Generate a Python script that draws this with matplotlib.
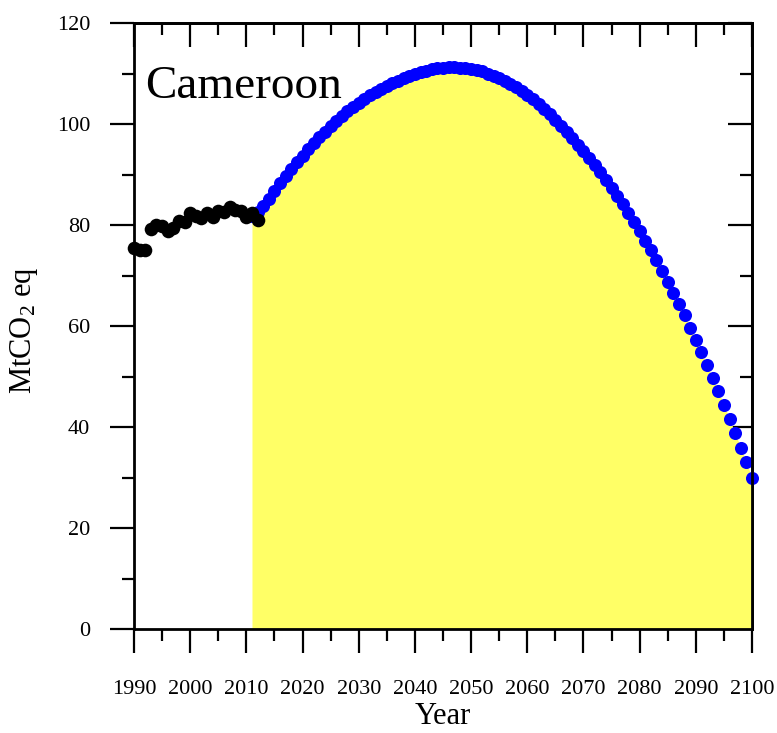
import matplotlib
matplotlib.use("Agg")
import matplotlib.pyplot as plt
from matplotlib.ticker import MultipleLocator

plt.rcParams['font.family'] = ['Liberation Serif', 'DejaVu Serif']
plt.rcParams['mathtext.fontset'] = 'custom'
plt.rcParams['mathtext.rm'] = 'Liberation Serif'
plt.rcParams['mathtext.it'] = 'Liberation Serif:italic'

# historical emissions (black)
hist_years = list(range(1990, 2013))
hist_vals = [75.5, 75.0, 75.0, 79.3, 80.0, 79.8, 78.8, 79.5, 80.8, 80.5,
             82.3, 81.8, 81.3, 82.3, 81.5, 82.8, 82.5, 83.5, 83.0, 82.8,
             81.5, 82.3, 81.0]

# projected pathway (blue)
proj_years = list(range(2011, 2101))
proj_vals = [81.8, 82.6, 83.7, 85.2, 86.8, 88.3, 89.7, 91.1, 92.4, 93.7,
             95.0, 96.2, 97.4, 98.5, 99.6, 100.6, 101.6, 102.5, 103.4, 104.2,
             105.0, 105.7, 106.4, 107.0, 107.6, 108.1, 108.6, 109.1, 109.5, 109.9,
             110.2, 110.5, 110.8, 111.0, 111.1, 111.2, 111.2, 111.1, 111.0, 110.8,
             110.6, 110.4, 110.0, 109.6, 109.1, 108.6, 108.0, 107.3, 106.6, 105.8,
             104.9, 104.0, 103.0, 101.9, 100.8, 99.6, 98.4, 97.2, 95.9, 94.6,
             93.3, 91.9, 90.4, 88.9, 87.4, 85.8, 84.1, 82.4, 80.6, 78.8,
             76.9, 75.0, 73.0, 70.9, 68.8, 66.6, 64.4, 62.1, 59.7, 57.3,
             54.8, 52.3, 49.7, 47.1, 44.4, 41.6, 38.8, 35.9, 33.0, 30.0]

fig = plt.figure(figsize=(7.77, 7.33), dpi=100)
ax = fig.add_axes([134 / 777, 104 / 733, 618 / 777, 606 / 733])

ax.fill_between(proj_years, proj_vals, 0, color='#ffff66', lw=0, zorder=1)
ax.plot(proj_years, proj_vals, 'o', color='#0000ff', ms=9.4, mec='none',
        clip_on=False, zorder=3)
ax.plot(hist_years, hist_vals, 'o', color='black', ms=9.8, mec='none',
        clip_on=False, zorder=4)

ax.set_xlim(1990, 2100)
ax.set_ylim(0, 120)
ax.xaxis.set_major_locator(MultipleLocator(10))
ax.xaxis.set_minor_locator(MultipleLocator(5))
ax.yaxis.set_major_locator(MultipleLocator(20))
ax.yaxis.set_minor_locator(MultipleLocator(10))

for s in ax.spines.values():
    s.set_linewidth(2)
    s.set_zorder(5)

ax.tick_params(which='both', direction='out', width=1.6, labelsize=16)
ax.tick_params(which='major', length=17.5)
ax.tick_params(which='minor', length=8.8)
ax.tick_params(axis='x', pad=19)
ax.tick_params(axis='y', pad=14)

# top and right: inward ticks, no labels
top = ax.secondary_xaxis('top')
top.xaxis.set_major_locator(MultipleLocator(10))
top.xaxis.set_minor_locator(MultipleLocator(5))
top.tick_params(which='both', direction='in', width=1.6, labeltop=False)
top.tick_params(which='major', length=17.5)
top.tick_params(which='minor', length=8.8)
top.spines['top'].set_linewidth(2)

right = ax.secondary_yaxis('right')
right.yaxis.set_major_locator(MultipleLocator(20))
right.yaxis.set_minor_locator(MultipleLocator(10))
right.tick_params(which='both', direction='in', width=1.6, labelright=False)
right.tick_params(which='major', length=17.5)
right.tick_params(which='minor', length=8.8)
right.spines['right'].set_linewidth(2)

fig.text(145 / 777, (733 - 98) / 733, 'Cameroon', fontsize=34,
         va='baseline', ha='left')
fig.text(443 / 777, 9 / 733, 'Year', fontsize=22, ha='center', va='baseline')
fig.text(24 / 777, 403 / 733, 'MtCO$_2$ eq', fontsize=22, rotation=90,
         ha='center', va='center')

fig.savefig('out.png', dpi=100)
